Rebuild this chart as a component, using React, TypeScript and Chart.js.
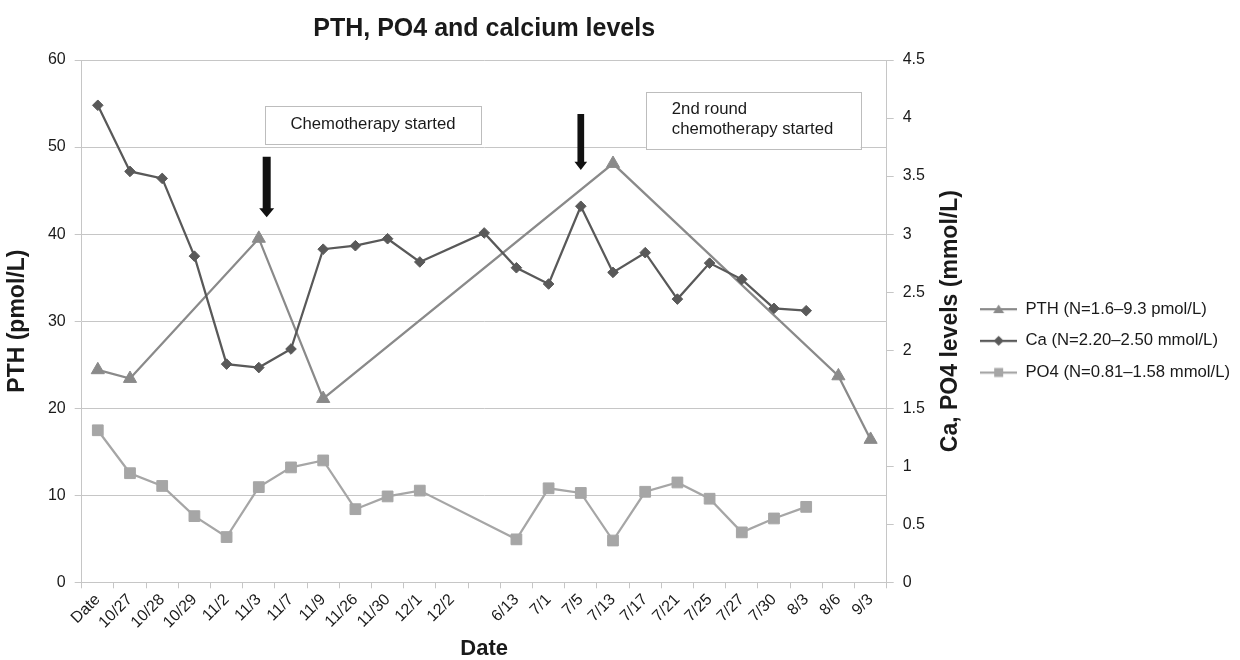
import React, { useEffect, useRef } from 'react';
import { Chart, registerables } from 'chart.js';

Chart.register(...registerables);

// ---------- data ----------
const dates = ['Date', '10/27', '10/28', '10/29', '11/2', '11/3', '11/7', '11/9', '11/26', '11/30', '12/1', '12/2', '', '6/13', '7/1', '7/5', '7/13', '7/17', '7/21', '7/25', '7/27', '7/30', '8/3', '8/6', '9/3'];
const pthValues = [24.4, 23.4, null, null, null, 39.5, null, 21.1, null, null, null, null, null, null, null, null, 48.1, null, null, null, null, null, null, 23.7, 16.4];
const caValues = [4.11, 3.54, 3.48, 2.81, 1.88, 1.85, 2.01, 2.87, 2.9, 2.96, 2.76, null, 3.01, 2.71, 2.57, 3.24, 2.67, 2.84, 2.44, 2.75, 2.61, 2.36, 2.34, null, null];
const po4Values = [1.31, 0.94, 0.83, 0.57, 0.39, 0.82, 0.99, 1.05, 0.63, 0.74, 0.79, null, null, 0.37, 0.81, 0.77, 0.36, 0.78, 0.86, 0.72, 0.43, 0.55, 0.65, null, null];
const seriesNames = ['PTH (N=1.6–9.3 pmol/L)', 'Ca (N=2.20–2.50 mmol/L)', 'PO4 (N=0.81–1.58 mmol/L)'];
const pthTicks = [0, 10, 20, 30, 40, 50, 60];
const mmolTicks = [0, 0.5, 1, 1.5, 2, 2.5, 3, 3.5, 4, 4.5];

const titleText = 'PTH, PO4 and calcium levels';
const xTitle = 'Date';
const yTitle = 'PTH (pmol/L)';
const y1Title = 'Ca, PO4 levels (mmol/L)';

// annotations (in axis units: category index / PTH value)
const noteBoxes = [
  { lines: ['Chemotherapy started'], x0: 5.19, x1: 11.9, y0: 54.7, y1: 50.35, align: 'center' },
  { lines: ['2nd round', 'chemotherapy started'], x0: 17.02, x1: 23.69, y0: 56.36, y1: 49.86, align: 'left' },
];
const arrows = [
  { x: 5.245, yTop: 48.9, yTip: 41.93, shaft: 8, head: 15, headLen: 9 },
  { x: 15.0, yTop: 53.8, yTip: 47.37, shaft: 6.7, head: 12.7, headLen: 8.3 },
];

// ---------- styles ----------
const FONT = "'Liberation Sans', Arial, sans-serif";
const TEXT = '#1a1a1a';
const GRID = '#c6c6c6';
const PTH_C = '#8a8a8a';
const CA_C = '#595959';
const PO4_C = '#a6a6a6';

function legendImage(color: string, kind: string) {
  const c = document.createElement('canvas');
  c.width = 37;
  c.height = 14;
  const g = c.getContext('2d')!;
  g.strokeStyle = color;
  g.fillStyle = color;
  g.lineWidth = 2.25;
  g.beginPath();
  g.moveTo(0, 7);
  g.lineTo(37, 7);
  g.stroke();
  g.beginPath();
  if (kind === 'triangle') {
    g.moveTo(18.5, 2.5);
    g.lineTo(24, 11);
    g.lineTo(13, 11);
  } else if (kind === 'diamond') {
    g.moveTo(18.5, 2);
    g.lineTo(23.5, 7);
    g.lineTo(18.5, 12);
    g.lineTo(13.5, 7);
  } else {
    g.rect(14, 2.5, 9, 9);
  }
  g.closePath();
  g.fill();
  return c;
}

const annotationPlugin = {
  id: 'annotations',
  afterDraw(chart: any) {
    const { ctx, chartArea } = chart;
    const xs = chart.scales.x;
    const ys = chart.scales.y;
    ctx.save();
    noteBoxes.forEach((b) => {
      const l = xs.getPixelForValue(b.x0);
      const r = xs.getPixelForValue(b.x1);
      const t = ys.getPixelForValue(b.y0);
      const bt = ys.getPixelForValue(b.y1);
      ctx.fillStyle = '#ffffff';
      ctx.fillRect(l, t, r - l, bt - t);
      ctx.strokeStyle = '#bdbdbd';
      ctx.lineWidth = 1;
      ctx.strokeRect(Math.round(l) + 0.5, Math.round(t) + 0.5, Math.round(r - l), Math.round(bt - t));
      ctx.fillStyle = TEXT;
      ctx.font = `16.7px ${FONT}`;
      ctx.textBaseline = 'middle';
      const lh = 20;
      const cy = (t + bt) / 2 - 1;
      const startY = cy - ((b.lines.length - 1) * lh) / 2;
      b.lines.forEach((line, i) => {
        if (b.align === 'center') {
          ctx.textAlign = 'center';
          ctx.fillText(line, (l + r) / 2, startY + i * lh);
        } else {
          ctx.textAlign = 'left';
          ctx.fillText(line, l + 26, startY + i * lh);
        }
      });
    });
    arrows.forEach((a) => {
      const x = xs.getPixelForValue(a.x);
      const top = ys.getPixelForValue(a.yTop);
      const tip = ys.getPixelForValue(a.yTip);
      const hb = tip - a.headLen;
      ctx.fillStyle = '#111111';
      ctx.beginPath();
      ctx.moveTo(x - a.shaft / 2, top);
      ctx.lineTo(x + a.shaft / 2, top);
      ctx.lineTo(x + a.shaft / 2, hb);
      ctx.lineTo(x + a.head / 2, hb);
      ctx.lineTo(x, tip);
      ctx.lineTo(x - a.head / 2, hb);
      ctx.lineTo(x - a.shaft / 2, hb);
      ctx.closePath();
      ctx.fill();
    });
    // right axis title, reading bottom to top
    ctx.translate(chartArea.right + 63.5, (chartArea.top + chartArea.bottom) / 2);
    ctx.rotate(-Math.PI / 2);
    ctx.font = `bold 23px ${FONT}`;
    ctx.fillStyle = TEXT;
    ctx.textAlign = 'center';
    ctx.textBaseline = 'middle';
    ctx.fillText(y1Title, 0, 0);
    ctx.restore();
  },
};

export default function App() {
  const ref = useRef<HTMLCanvasElement | null>(null);

  useEffect(() => {
    if (!ref.current) return;
    Chart.defaults.font.family = FONT;
    Chart.defaults.color = TEXT;
    const imgs = [legendImage(PTH_C, 'triangle'), legendImage(CA_C, 'diamond'), legendImage(PO4_C, 'square')];

    const chart = new Chart(ref.current, {
      type: 'line',
      data: {
        labels: dates,
        datasets: [
          {
            label: seriesNames[0],
            data: pthValues,
            yAxisID: 'y',
            borderColor: PTH_C,
            backgroundColor: PTH_C,
            borderWidth: 2.25,
            pointStyle: 'triangle',
            pointRadius: 7.6,
            pointBorderWidth: 1,
            pointBackgroundColor: PTH_C,
            pointBorderColor: PTH_C,
            spanGaps: true,
            tension: 0,
            order: 2,
          },
          {
            label: seriesNames[1],
            data: caValues,
            yAxisID: 'y1',
            borderColor: CA_C,
            backgroundColor: CA_C,
            borderWidth: 2.25,
            pointStyle: 'rectRot',
            pointRadius: 5.3,
            pointBorderWidth: 1,
            pointBackgroundColor: CA_C,
            pointBorderColor: CA_C,
            spanGaps: true,
            tension: 0,
            order: 1,
          },
          {
            label: seriesNames[2],
            data: po4Values,
            yAxisID: 'y1',
            borderColor: PO4_C,
            backgroundColor: PO4_C,
            borderWidth: 2.25,
            pointStyle: 'rect',
            pointRadius: 7.6,
            pointBorderWidth: 1,
            pointBackgroundColor: PO4_C,
            pointBorderColor: PO4_C,
            spanGaps: true,
            tension: 0,
            order: 0,
          },
        ],
      },
      options: {
        responsive: false,
        animation: false,
        devicePixelRatio: 1,
        events: [],
        layout: { padding: { left: 0, right: 0, top: 0, bottom: 0 } },
        plugins: {
          title: {
            display: true,
            text: titleText,
            fullSize: false,
            color: TEXT,
            font: { size: 25, weight: 'bold', lineHeight: 1.2 },
            padding: { top: 14, bottom: 16 },
          },
          legend: {
            position: 'right',
            align: 'center',
            maxWidth: 400,
            title: { display: true, text: ' ', padding: 0, font: { size: 18, lineHeight: 1.2 } },
            labels: {
              usePointStyle: true,
              pointStyleWidth: 37,
              padding: 15,
              color: TEXT,
              font: { size: 16.7 },
              sort: (a: any, b: any) => a.datasetIndex - b.datasetIndex,
              generateLabels: (c: any) =>
                (Chart.defaults.plugins.legend.labels as any)
                  .generateLabels(c)
                  .map((it: any) => ({ ...it, pointStyle: imgs[it.datasetIndex] })),
            },
          },
          tooltip: { enabled: false },
        },
        scales: {
          x: {
            type: 'category',
            offset: true,
            grid: { offset: true, drawOnChartArea: false, drawTicks: true, tickLength: 6, color: GRID },
            border: { color: GRID, width: 1 },
            ticks: { autoSkip: false, maxRotation: 45, minRotation: 45, padding: 2, color: TEXT, font: { size: 16 } },
            title: { display: true, text: xTitle, color: TEXT, font: { size: 22, weight: 'bold', lineHeight: 1.2 }, padding: { top: 0, bottom: -2 } },
            afterFit: (s: any) => {
              s.height = 77.7;
            },
          },
          y: {
            type: 'linear',
            position: 'left',
            min: 0,
            max: 60,
            grid: { drawOnChartArea: true, drawTicks: true, tickLength: 7, color: GRID },
            border: { color: GRID, width: 1 },
            ticks: { padding: 9, color: TEXT, font: { size: 16 } },
            afterBuildTicks: (s: any) => {
              s.ticks = pthTicks.map((v) => ({ value: v }));
            },
            title: { display: true, text: yTitle, color: TEXT, font: { size: 23, weight: 'bold', lineHeight: 1.2 }, padding: { top: 4.2, bottom: 0 } },
            afterFit: (s: any) => {
              s.width = 81.7;
            },
          },
          y1: {
            type: 'linear',
            position: 'right',
            min: 0,
            max: 4.5,
            grid: { drawOnChartArea: false, drawTicks: true, tickLength: 7, color: GRID },
            border: { color: GRID, width: 1 },
            ticks: { padding: 9, color: TEXT, font: { size: 16 }, callback: (v: any) => String(v) },
            afterBuildTicks: (s: any) => {
              s.ticks = mmolTicks.map((v) => ({ value: v }));
            },
            afterFit: (s: any) => {
              const lw = s.chart.legend ? s.chart.legend.width : 0;
              s.width = 1240 - lw - 886.7;
            },
          },
        },
      } as any,
      plugins: [annotationPlugin],
    });
    return () => chart.destroy();
  }, []);

  return (
    <div style={{ position: 'fixed', left: 0, top: 0, width: 1240, height: 660, background: '#ffffff' }}>
      <canvas ref={ref} width={1240} height={660} style={{ display: 'block', width: 1240, height: 660 }} />
    </div>
  );
}
